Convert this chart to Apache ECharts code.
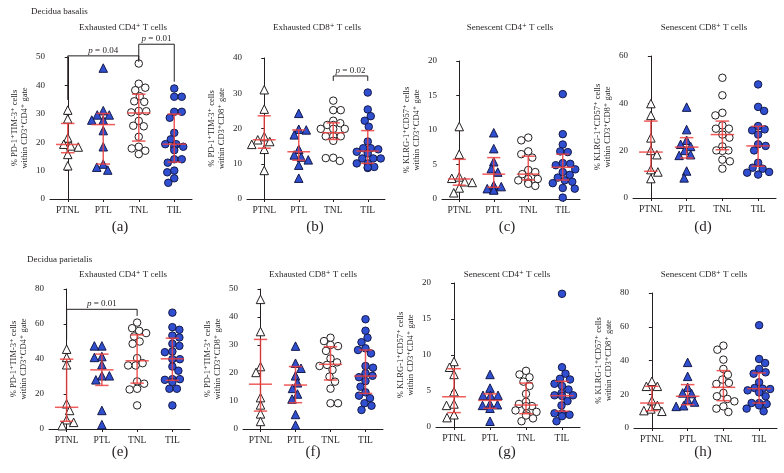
<!DOCTYPE html>
<html><head><meta charset="utf-8">
<script src="https://cdn.jsdelivr.net/npm/echarts@6/dist/echarts.min.js"></script>
<style>html,body{margin:0;padding:0;background:#fff}#c{width:784px;height:473px}</style>
</head><body><div id="c"></div>
<script>
// ---------- DATA ----------
const categories = ['PTNL', 'PTL', 'TNL', 'TIL'];
const sectionLabels = ['Decidua basalis', 'Decidua parietalis'];
const panelLetters = ['(a)', '(b)', '(c)', '(d)', '(e)', '(f)', '(g)', '(h)'];
const panelTitles = ['Exhausted CD4⁺ T cells', 'Exhausted CD8⁺ T cells', 'Senescent CD4⁺ T cells', 'Senescent CD8⁺ T cells',
                     'Exhausted CD4⁺ T cells', 'Exhausted CD8⁺ T cells', 'Senescent CD4⁺ T cells', 'Senescent CD8⁺ T cells'];
const yNames = ['% PD-1⁺TIM-3⁺ cells\nwithin CD3⁺CD4⁺ gate', '% PD-1⁺TIM-3⁺ cells\nwithin CD3⁺CD8⁺ gate',
                '% KLRG-1⁺CD57⁺ cells\nwithin CD3⁺CD4⁺ gate', '% KLRG-1⁺CD57⁺ cells\nwithin CD3⁺CD8⁺ gate',
                '% PD-1⁺TIM-3⁺ cells\nwithin CD3⁺CD4⁺ gate', '% PD-1⁺TIM-3⁺ cells\nwithin CD3⁺CD8⁺ gate',
                '% KLRG-1⁺CD57⁺ cells\nwithin CD3⁺CD4⁺ gate', '% KLRG-1⁺CD57⁺ cells\nwithin CD3⁺CD8⁺ gate'];
const yMax = [50, 40, 20, 60, 80, 50, 20, 80];
const yStep = [10, 10, 5, 20, 20, 10, 5, 20];

// values per group: PTNL, PTL, TNL, TIL
const valuesA = [
  [31.3, 28.2, 21.5, 18.3, 18.7, 19.3, 15.7, 11.7],
  [46.1, 31.1, 29.6, 29.6, 27.8, 27.8, 24.1, 18.4, 12.3, 11.2, 10.2],
  [47.7, 40.6, 39.2, 38.3, 36.2, 34.4, 34.2, 31.0, 30.9, 30.5, 27.5, 25.8, 25.6, 21.9, 18.4, 17.8, 17.0, 15.8],
  [38.9, 36.0, 36.0, 30.7, 30.7, 28.6, 23.3, 21.0, 19.3, 19.3, 18.4, 18.4, 17.2, 14.0, 14.0, 12.8, 10.0, 9.4, 7.3, 5.7]
];
const valuesB = [
  [31.0, 25.5, 17.7, 16.8, 16.3, 15.5, 14.1, 8.1],
  [24.3, 19.8, 19.6, 18.2, 14.1, 12.5, 11.9, 11.1, 9.6, 5.9],
  [27.9, 25.2, 25.2, 22.2, 21.5, 21.0, 21.0, 19.9, 19.9, 19.9, 17.8, 17.8, 17.8, 16.5, 11.7, 11.6, 10.8],
  [30.2, 25.4, 23.5, 22.2, 20.5, 16.3, 14.4, 14.4, 14.1, 13.4, 12.9, 11.5, 11.5, 11.5, 10.1, 10.1, 9.1, 8.8, 9.0]
];
const valuesC = [
  [10.5, 6.5, 3.2, 3.0, 2.5, 2.4, 1.6, 0.9],
  [9.6, 7.3, 5.4, 4.4, 3.9, 2.0, 1.8, 1.5, 1.4, 1.3],
  [8.9, 8.5, 6.9, 6.5, 6.0, 4.2, 3.9, 3.6, 2.9, 2.9, 2.7, 2.4, 2.2, 1.9],
  [15.2, 9.4, 7.9, 6.9, 6.8, 5.2, 5.1, 4.9, 4.3, 3.9, 3.5, 3.1, 2.7, 2.5, 2.3, 1.6, 1.5, 0.2]
];
const valuesD = [
  [39.9, 34.9, 25.4, 20.1, 18.3, 12.0, 11.0, 8.2],
  [38.4, 28.9, 24.4, 22.7, 21.8, 20.1, 18.3, 18.0, 11.4, 8.5],
  [50.8, 43.4, 36.0, 34.9, 30.7, 29.3, 29.3, 26.8, 25.5, 21.8, 20.1, 19.9, 20.1, 16.2, 15.5, 12.4],
  [48.0, 38.5, 36.8, 30.4, 29.0, 28.6, 26.8, 22.7, 22.0, 20.1, 14.9, 12.8, 12.4, 11.0, 10.7, 9.9]
];
const valuesE = [
  [45.6, 40.9, 36.7, 14.4, 10.6, 5.3, 3.8, 1.9],
  [47.5, 47.5, 41.4, 40.9, 36.7, 30.4, 30.4, 28.1, 10.6, 2.5],
  [60.8, 57.6, 56.1, 54.8, 52.9, 50.0, 48.7, 40.5, 37.6, 36.3, 36.3, 27.2, 25.9, 23.0, 22.6, 13.5],
  [66.5, 58.2, 56.7, 53.4, 52.3, 48.7, 47.5, 44.3, 43.9, 39.9, 39.9, 35.7, 33.3, 28.5, 28.5, 28.1, 26.8, 23.0, 23.0, 13.5]
];
const valuesF = [
  [46.3, 34.8, 22.3, 20.2, 11.2, 8.6, 5.4, 2.7],
  [29.6, 23.5, 21.7, 19.0, 16.5, 14.5, 12.5, 10.7, 5.2, 1.4],
  [32.6, 31.4, 30.0, 29.6, 27.9, 25.2, 23.8, 22.9, 22.5, 21.1, 18.7, 16.9, 14.4, 9.2, 9.2],
  [39.2, 35.1, 32.6, 31.0, 28.8, 28.2, 27.0, 22.5, 21.9, 19.9, 19.0, 18.5, 17.1, 15.1, 13.1, 11.9, 11.0, 9.2, 8.3, 6.8]
];
const valuesG = [
  [9.1, 8.3, 7.3, 4.9, 3.2, 3.0, 1.7, 1.3],
  [7.3, 5.4, 4.4, 4.4, 4.4, 3.2, 3.1, 3.0, 2.6, 0.8],
  [7.8, 7.3, 6.9, 6.3, 5.7, 4.6, 3.5, 3.2, 2.9, 2.9, 2.3, 2.1, 1.9, 1.6, 1.2, 0.8],
  [18.5, 8.3, 7.4, 6.7, 6.6, 6.0, 5.7, 5.2, 4.7, 4.4, 4.3, 4.4, 3.6, 3.0, 1.9, 1.9, 1.7, 1.5, 0.8]
];
const valuesH = [
  [27.7, 24.7, 24.7, 16.2, 13.4, 11.3, 10.3, 9.9],
  [38.9, 30.6, 24.1, 20.8, 20.4, 16.8, 15.4, 13.2, 12.8],
  [48.8, 46.4, 40.5, 35.0, 31.6, 28.7, 26.7, 26.1, 20.8, 18.8, 17.2, 15.8, 12.8, 11.5, 9.5],
  [60.9, 40.9, 38.5, 35.0, 33.0, 32.2, 27.1, 23.7, 23.3, 23.1, 22.3, 21.1, 18.8, 14.8, 14.8, 14.2, 13.4, 11.5, 9.9]
];

// median with interquartile range per group: [Q1, median, Q3]
const barsA = [[16.3, 19.2, 26.6], [12.3, 26.2, 30.1], [20.4, 30.3, 36.9], [13.0, 19.3, 29.9]];
const barsB = [[14.4, 16.8, 23.6], [11.0, 13.4, 19.6], [16.9, 18.8, 21.6], [10.1, 13.6, 19.4]];
const barsC = [[2.0, 2.9, 5.75], [1.7, 3.6, 6.0], [2.75, 3.6, 6.2], [2.75, 4.6, 6.5]];
const barsD = [[11.3, 19.4, 32.5], [16.9, 21.5, 25.5], [20.4, 26.8, 32.5], [13.4, 22.0, 30.3]];
const barsE = [[4.4, 12.4, 39.9], [24.9, 33.8, 42.8], [26.2, 39.0, 53.8], [27.8, 40.1, 51.9]];
const barsF = [[6.4, 16.0, 32.0], [9.4, 15.7, 22.3], [17.5, 23.1, 29.4], [12.7, 18.9, 28.2]];
const barsG = [[2.0, 4.2, 8.1], [2.6, 3.7, 4.6], [1.85, 3.05, 6.1], [2.2, 4.35, 6.35]];
const barsH = [[10.3, 14.8, 24.7], [13.8, 18.8, 25.7], [16.2, 24.1, 34.0], [14.8, 23.3, 32.6]];

// significance brackets: [fromGroup, toGroup, bracketValue, leftEnd, rightEnd, p]
const bracketsA = [[0, 2, 50.4, 34.9, 48.3, '0.04'], [2, 3, 54.5, 49.0, 41.3, '0.01']];
const bracketsB = [[2, 3, 34.9, 33.5, 33.5, '0.02']];
const bracketsC = [];
const bracketsD = [];
const bracketsE = [[0, 2, 68.4, 50.9, 64.6, '0.01']];
const bracketsF = [];
const bracketsG = [];
const bracketsH = [];

const allValues = [valuesA, valuesB, valuesC, valuesD, valuesE, valuesF, valuesG, valuesH];
const allBars = [barsA, barsB, barsC, barsD, barsE, barsF, barsG, barsH];
const allBrackets = [bracketsA, bracketsB, bracketsC, bracketsD, bracketsE, bracketsF, bracketsG, bracketsH];

// ---------- LAYOUT / STYLE ----------
const FONT = "'Liberation Serif', 'DejaVu Serif', serif";
const INK = '#231f20';
const BLUE = '#2f4fd0';
const RED = 'rgba(236,64,64,0.85)';
const gridRects = [
  [50, 57, 142, 142], [247, 58, 138, 141], [442, 61, 138, 138], [633, 56, 143, 142],
  [49, 289, 141, 140], [243, 289, 140, 140], [436, 283, 144, 144], [634, 293, 143, 135]
];
const titlePos = [[123, 28], [317, 28], [510, 28], [704, 28], [123, 275], [313, 275], [507, 275], [704, 275]];
const letterPos = [[120, 227], [315, 227], [507, 227], [703, 227], [120, 452], [313, 452], [507, 452], [703, 452]];
const sectionPos = [[31, 12], [27, 260]];
const groupStyles = [
  { symbol: 'triangle', size: 8.5, color: '#ffffff', border: INK },
  { symbol: 'triangle', size: 8.5, color: BLUE, border: '#151a4a' },
  { symbol: 'circle', size: 7.5, color: '#ffffff', border: INK },
  { symbol: 'circle', size: 7.5, color: BLUE, border: '#151a4a' }
];

// simple beeswarm: horizontal spread computed so markers barely overlap, capped to the category band
function swarm(vals, pxPerUnit, catW, d, maxOff) {
  const order = vals.map((v, i) => i).sort((i, j) => vals[j] - vals[i]);
  const placed = [];
  const off = new Array(vals.length);
  order.forEach((i, n) => {
    const y = vals[i] * pxPerUnit;
    const sgn = n % 2 ? -1 : 1;
    let best = null, bestCost = Infinity;
    for (let k = 0; k <= maxOff * 2; k++) {
      const cands = k === 0 ? [0] : [sgn * k * 0.5, -sgn * k * 0.5];
      for (const x of cands) {
        let minD2 = Infinity;
        placed.forEach(p => { minD2 = Math.min(minD2, (p.x - x) ** 2 + (p.y - y) ** 2); });
        if (minD2 >= d * d) { best = x; break; }
        if (d * d - minD2 < bestCost) { bestCost = d * d - minD2; if (best === null) best = x; }
      }
      if (best !== null && placed.every(p => (p.x - best) ** 2 + (p.y - y) ** 2 >= d * d)) break;
    }
    placed.push({ x: best, y });
    off[i] = best / catW;
  });
  return off;
}

const grids = [], xAxes = [], yAxes = [], series = [], graphics = [];

for (let g = 0; g < 8; g++) {
  const [l, t, w, h] = gridRects[g];
  grids.push({ left: l, top: t, width: w, height: h, containLabel: false });
  xAxes.push({
    type: 'category', gridIndex: g, data: categories, boundaryGap: true,
    axisLine: { lineStyle: { color: INK, width: 1 } },
    axisTick: { show: true, alignWithLabel: true, length: 3, lineStyle: { color: INK } },
    axisLabel: { color: INK, fontFamily: FONT, fontSize: 9.5, margin: 6 },
    splitLine: { show: false }
  });
  xAxes.push({ type: 'value', gridIndex: g, min: -0.5, max: 3.5, show: false });
  yAxes.push({
    type: 'value', gridIndex: g, min: 0, max: yMax[g], interval: yStep[g],
    name: yNames[g], nameLocation: 'middle', nameRotate: 90, nameGap: 20,
    nameTextStyle: { color: INK, fontFamily: FONT, fontSize: 8.5, lineHeight: 10 },
    axisLine: { show: true, lineStyle: { color: INK, width: 1 } },
    axisTick: { show: true, length: 3, lineStyle: { color: INK } },
    axisLabel: { color: INK, fontFamily: FONT, fontSize: 9, margin: 5 },
    splitLine: { show: false }
  });

  const pxPerUnit = h / yMax[g];
  const catW = w / 4;
  allValues[g].forEach((vals, ci) => {
    const offs = swarm(vals, pxPerUnit, catW, 7.2, 13);
    const st = groupStyles[ci];
    series.push({
      type: 'scatter', xAxisIndex: 2 * g + 1, yAxisIndex: g,
      symbol: st.symbol, symbolSize: st.size,
      itemStyle: { color: st.color, borderColor: st.border, borderWidth: 1, opacity: 1 },
      data: vals.map((v, k) => [ci + offs[k], v]),
      z: 2, silent: true
    });
  });

  series.push({
    type: 'custom', xAxisIndex: 2 * g + 1, yAxisIndex: g, z: 5, silent: true,
    data: allBars[g].map((b, i) => [i, b[0], b[1], b[2]]),
    renderItem: (params, api) => {
      const i = api.value(0);
      const lo = api.coord([i, api.value(1)]);
      const md = api.coord([i, api.value(2)]);
      const hi = api.coord([i, api.value(3)]);
      const cw = api.size([1, 0])[0];
      const mw = cw * 0.33, capw = cw * 0.19;
      const st = { stroke: RED, lineWidth: 1.5 };
      return {
        type: 'group', children: [
          { type: 'line', shape: { x1: lo[0], y1: lo[1], x2: hi[0], y2: hi[1] }, style: st },
          { type: 'line', shape: { x1: hi[0] - capw, y1: hi[1], x2: hi[0] + capw, y2: hi[1] }, style: st },
          { type: 'line', shape: { x1: lo[0] - capw, y1: lo[1], x2: lo[0] + capw, y2: lo[1] }, style: st },
          { type: 'line', shape: { x1: md[0] - mw, y1: md[1], x2: md[0] + mw, y2: md[1] }, style: st }
        ]
      };
    }
  });

  const br = allBrackets[g];
  if (br.length) {
    series.push({
      type: 'custom', xAxisIndex: 2 * g + 1, yAxisIndex: g, z: 6, silent: true, clip: false,
      data: br.map((b, k) => [k]),
      renderItem: (params, api) => {
        const b = br[api.value(0)];
        const pTop1 = api.coord([b[0], b[2]]), pTop2 = api.coord([b[1], b[2]]);
        const pL = api.coord([b[0], b[3]]), pR = api.coord([b[1], b[4]]);
        return {
          type: 'group', children: [
            { type: 'polyline', shape: { points: [pL, pTop1, pTop2, pR] },
              style: { stroke: INK, lineWidth: 1, fill: null } },
            { type: 'text', x: (pTop1[0] + pTop2[0]) / 2, y: pTop1[1] - 1,
              style: { text: '{i|p} = ' + b[5], align: 'center', verticalAlign: 'bottom',
                fontFamily: FONT, fontSize: 9, fill: INK,
                rich: { i: { fontStyle: 'italic', fontFamily: FONT, fontSize: 9, fill: INK } } } }
          ]
        };
      }
    });
  }

  graphics.push({ type: 'text', x: titlePos[g][0], y: titlePos[g][1],
    style: { text: panelTitles[g], fontFamily: FONT, fontSize: 9, fill: INK, textAlign: 'center', textVerticalAlign: 'middle' } });
  graphics.push({ type: 'text', x: letterPos[g][0], y: letterPos[g][1],
    style: { text: panelLetters[g], fontFamily: FONT, fontSize: 15, fill: INK, textAlign: 'center', textVerticalAlign: 'middle' } });
}
sectionLabels.forEach((s, i) => {
  graphics.push({ type: 'text', x: sectionPos[i][0], y: sectionPos[i][1],
    style: { text: s, fontFamily: FONT, fontSize: 9, fill: INK, textAlign: 'left', textVerticalAlign: 'middle' } });
});

const chart = echarts.init(document.getElementById('c'), null, { renderer: 'canvas' });
chart.setOption({
  animation: false,
  backgroundColor: '#ffffff',
  grid: grids, xAxis: xAxes, yAxis: yAxes, series: series, graphic: graphics
});
</script></body></html>
